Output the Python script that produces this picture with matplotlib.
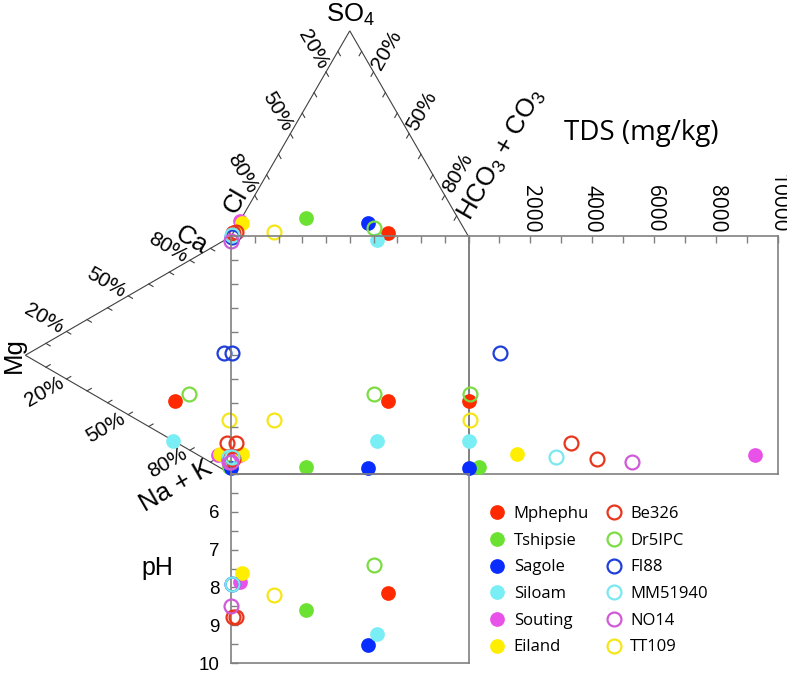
import numpy as np
import matplotlib
matplotlib.use('Agg')
import matplotlib.pyplot as plt
from matplotlib.lines import Line2D

plt.rcParams['font.family'] = ['Liberation Sans', 'DejaVu Sans']
plt.rcParams['mathtext.fontset'] = 'custom'
plt.rcParams['mathtext.rm'] = 'Liberation Sans'
plt.rcParams['mathtext.it'] = 'Liberation Sans:italic'
plt.rcParams['mathtext.bf'] = 'Liberation Sans:bold'

# ---------------- data ----------------
names = ['Mphephu', 'Tshipsie', 'Sagole', 'Siloam', 'Souting', 'Eiland',
         'Be326', 'Dr5IPC', 'FI88', 'MM51940', 'NO14', 'TT109']
is_filled = [True, True, True, True, True, True,
             False, False, False, False, False, False]
colors = ['#ff2a00', '#6be232', '#0a2dff', '#79eef5', '#e852e8', '#ffee00',
          '#e8361c', '#7ddc44', '#1f3fd8', '#7ae8ee', '#d05ad8', '#f5e61a']

# cations (% meq): one list per sample (Be326 has two samples)
ca = [[17.1], [2.4], [2.5], [0.0], [4.85], [5.6], [12.1, 5.8], [23.5], [49.2], [6.7], [4.5], [22.2]]
mg = [[27.2], [1.0], [0.0], [28.2], [6.3], [5.3], [2.0, 1.0], [20.4], [3.4], [1.0], [1.0], [1.0]]
na = [[55.7], [96.6], [97.5], [71.8], [88.85], [89.1], [85.9, 93.2], [56.1], [47.4], [92.3], [94.5], [76.8]]
# anions (% meq)
cl = [[33.1], [63.9], [39.0], [39.4], [92.5], [92.1], [97.0, 98.5], [37.7], [99.6], [99.3], [100.8], [80.8]]
so4 = [[1.7], [9.0], [6.6], [-1.8], [7.5], [6.6], [2.0, 1.5], [4.1], [0.0], [0.5], [-2.0], [2.2]]
hco3 = [[65.2], [27.1], [54.4], [62.4], [0.0], [1.3], [1.0, 0.0], [58.2], [0.4], [0.2], [1.2], [17.0]]
tds = [[30], [330], [0], [10], [9250], [1560], [3310, 4150], [40], [1010], [2820], [5280], [40]]
ph = [[8.15], [8.6], [9.52], [9.23], [7.86], [7.62], [8.78, 8.78], [7.42], [7.91], [7.92], [8.49], [8.2]]

tds_ticks = list(range(0, 10001, 1000))
tds_ticklabels = ['' if (t % 2000 or t == 0) else str(t) for t in tds_ticks]
ph_ticks = [5 + 0.5 * k for k in range(11)]
ph_ticklabels = ['' if (t != int(t) or t == 5) else str(int(t)) for t in ph_ticks]
pct_marks = [20, 50, 80]

# ---------------- layout ----------------
W, H, DPI = 787, 674, 100
fig = plt.figure(figsize=(W / DPI, H / DPI), dpi=DPI)

PX = 2.375            # pixels per percent unit
SQ_L, SQ_B = 231, 474
SQ_T = SQ_B - 100 * PX
SQ_R = SQ_L + 100 * PX
TDS_R = 778
PH_B = 663
BOX = '#808080'
TRI = '#404040'
S3 = np.sqrt(3) / 2
SANS2 = 'Open Sans'


def rect(l, t, r, b):
    return [l / W, 1 - b / H, (r - l) / W, (b - t) / H]


main = fig.add_axes([0, 0, 1, 1])
main.set_xlim(-SQ_L / PX, (W - SQ_L) / PX)
main.set_ylim((SQ_B - H) / PX, SQ_B / PX)
main.axis('off')
main.set_zorder(0)

# triangle vertices (main axes units)
CL = np.array([0.0, 100.0]); HC = np.array([100.0, 100.0]); SO = np.array([50.0, 100 + 100 * S3])
CA = np.array([0.0, 100.0]); NA = np.array([0.0, 0.0]); MG = np.array([-100 * S3, 50.0])

for a, b in [(CL, SO), (SO, HC), (CA, MG), (MG, NA)]:
    main.plot([a[0], b[0]], [a[1], b[1]], color=TRI, lw=0.8, solid_capstyle='butt')

TL, OFF = 2.1, 10.8


def edge_ticks(p0, p1, tdir, rot, label_from_t):
    tdir = np.asarray(tdir) / np.linalg.norm(tdir)
    for k in range(1, 10):
        t = k / 10
        p = p0 + t * (p1 - p0)
        q = p + TL * tdir
        main.plot([p[0], q[0]], [p[1], q[1]], color=TRI, lw=0.8)
        val = label_from_t(t)
        if round(val) in pct_marks:
            lp = p - OFF * tdir
            main.text(lp[0], lp[1], f'{round(val)}%', rotation=rot, ha='center', va='center',
                      fontsize=15, rotation_mode='anchor')


# top triangle: left edge (Cl %), right edge (HCO3 %)
edge_ticks(SO, CL, HC - SO, -60, lambda t: 100 * t)
edge_ticks(SO, HC, CL - SO, 60, lambda t: 100 * t)
# left triangle: upper edge (Ca %), lower edge (Na+K %)
edge_ticks(MG, CA, NA - MG, -30, lambda t: 100 * t)
edge_ticks(MG, NA, CA - MG, 30, lambda t: 100 * t)

# vertex labels
main.text(50.1, 190.4, 'SO$_4$', ha='center', va='baseline', fontsize=18.5)
main.text(1.8, 115.0, 'Cl', rotation=60, ha='center', va='center', fontsize=18.5, rotation_mode='anchor')
main.text(114.0, 134.5, 'HCO$_3$ + CO$_3$', rotation=60, ha='center', va='center', fontsize=18.5,
          rotation_mode='anchor')
main.text(-16.8, 98.5, 'Ca', rotation=-30, ha='center', va='center', fontsize=18.5, rotation_mode='anchor')
main.text(-91.6, 50.0, 'Mg', rotation=90, ha='center', va='center', fontsize=18.5, rotation_mode='anchor')
main.text(-23.3, -5.0, 'Na + K', rotation=30, ha='center', va='center', fontsize=18.5, rotation_mode='anchor')

# square
sq = fig.add_axes(rect(SQ_L, SQ_T, SQ_R, SQ_B))
sq.set_xlim(0, 100); sq.set_ylim(0, 100)
sq.xaxis.tick_top(); sq.yaxis.tick_left()
sq.set_xticks(range(10, 100, 10)); sq.set_yticks(range(10, 100, 10))
sq.tick_params(direction='in', length=5, width=1, color=BOX, labeltop=False, labelleft=False,
               labelbottom=False)

# TDS box
tx = fig.add_axes(rect(SQ_R, SQ_T, TDS_R, SQ_B))
tx.set_xlim(0, 10000); tx.set_ylim(0, 100)
tx.xaxis.tick_top()
tx.set_xticks(tds_ticks)
tx.set_xticklabels(tds_ticklabels, rotation=270, fontfamily=SANS2, fontsize=15)
tx.set_yticks([])
tx.tick_params(axis='x', direction='in', length=5, width=1, color=BOX, pad=3)
fig.text(641 / W, 1 - 133 / H, 'TDS (mg/kg)', fontfamily=SANS2, fontsize=20, ha='center', va='center')

# pH box
px_ax = fig.add_axes(rect(SQ_L, SQ_B, SQ_R, PH_B))
px_ax.set_xlim(0, 100); px_ax.set_ylim(10, 5)
px_ax.set_xticks([])
px_ax.set_yticks(ph_ticks)
px_ax.set_yticklabels(ph_ticklabels, fontsize=13.5)
px_ax.tick_params(axis='y', direction='in', length=5, width=1, color=BOX, pad=8)
px_ax.set_ylabel('pH', rotation=0, fontsize=18, ha='center', va='center')
px_ax.yaxis.set_label_coords((157 - SQ_L) / (SQ_R - SQ_L), (PH_B - 568) / (PH_B - SQ_B))

for ax in (sq, tx, px_ax):
    ax.set_facecolor('none')
    ax.set_zorder(1)
    for s in ax.spines.values():
        s.set_color(BOX)
        s.set_linewidth(1.2)


def style(i):
    c = colors[i]
    if is_filled[i]:
        return dict(marker='o', ms=10.6, mfc=c, mec=c, mew=0, ls='none')
    return dict(marker='o', ms=10.0, mfc='none', mec=c, mew=1.6, ls='none')


for i in range(len(names)):
    st = style(i)
    c_ca = np.array(ca[i]); c_mg = np.array(mg[i])
    a_so = np.array(so4[i]); a_hc = np.array(hco3[i])
    cat_u = -c_mg * S3
    cat_v = c_ca + c_mg / 2
    an_u = a_hc + a_so / 2
    an_v = 100 + a_so * S3
    main.plot(cat_u, cat_v, clip_on=False, zorder=3, **st)
    main.plot(an_u, an_v, clip_on=False, zorder=3, **st)
    sq.plot(an_u, cat_v, clip_on=False, zorder=3, **st)
    tx.plot(tds[i], cat_v, clip_on=False, zorder=3, **st)
    px_ax.plot(an_u, ph[i], clip_on=False, zorder=3, **st)

handles = [Line2D([], [], **style(i)) for i in range(len(names))]
fig.legend(handles, names, loc='upper left', bbox_to_anchor=(489 / W, 1 - 506 / H), ncol=2,
           frameon=False, prop={'family': SANS2, 'size': 12}, handlelength=1.0, handletextpad=0.48,
           columnspacing=1.0, labelspacing=0.64, borderpad=0, borderaxespad=0)

fig.savefig('out.png', dpi=DPI)
